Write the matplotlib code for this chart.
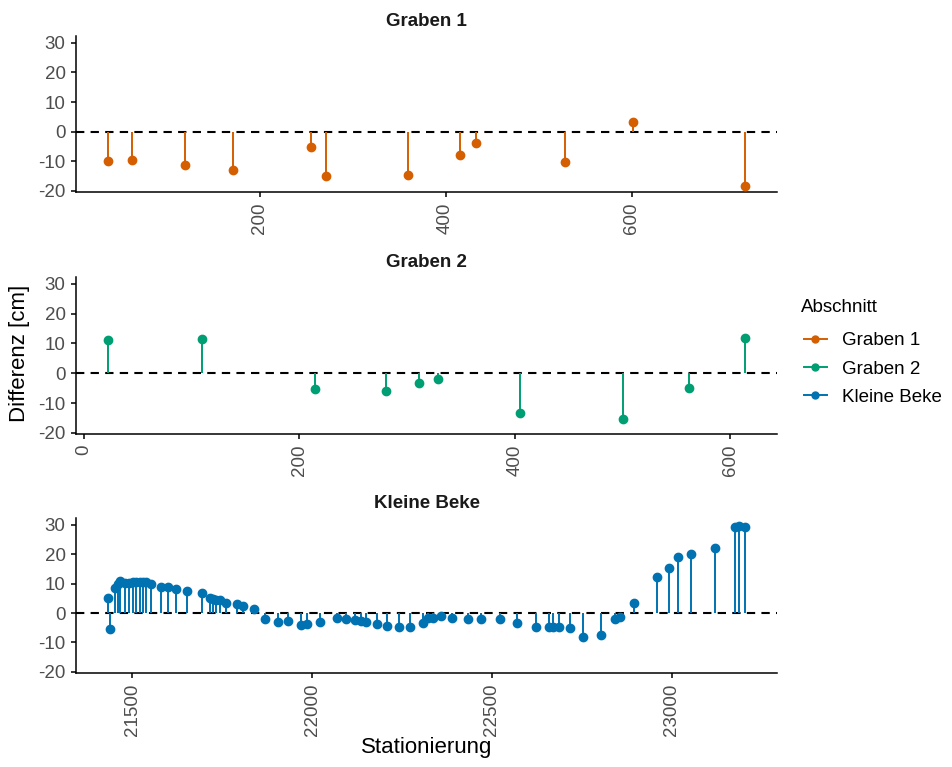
import matplotlib
matplotlib.use("Agg")
import matplotlib.pyplot as plt
from matplotlib.lines import Line2D

plt.rcParams["font.family"] = ["Liberation Sans", "DejaVu Sans"]
plt.rcParams["axes.unicode_minus"] = False

# Graben 1
g1_station = [37, 63, 120, 171, 255, 272, 360, 415, 433, 528, 602, 722]
g1_diff = [-9.8, -9.6, -11.3, -12.9, -5.1, -15.1, -14.6, -8.0, -4.0, -10.3, 3.4, -18.4]

# Graben 2
g2_station = [22, 109, 214, 280, 311, 329, 405, 501, 562, 614]
g2_diff = [11.0, 11.5, -5.3, -5.9, -3.2, -1.9, -13.5, -15.2, -5.0, 11.9]

# Kleine Beke
kb_station = [21432, 21439, 21453, 21460, 21467, 21479, 21490, 21502, 21511, 21520,
              21530, 21539, 21553, 21581, 21598, 21621, 21653, 21695, 21716, 21725,
              21734, 21745, 21760, 21790, 21809, 21837, 21869, 21906, 21934, 21969,
              21985, 22022, 22069, 22095, 22118, 22137, 22151, 22181, 22209, 22241,
              22271, 22307, 22323, 22336, 22357, 22390, 22434, 22470, 22522, 22571,
              22622, 22658, 22669, 22686, 22717, 22752, 22802, 22843, 22855, 22896,
              22958, 22993, 23016, 23053, 23120, 23176, 23188, 23204]
kb_diff = [5.0, -5.6, 8.4, 9.8, 11.0, 10.2, 10.3, 10.4, 10.4, 10.5,
           10.6, 10.6, 9.8, 8.9, 8.9, 8.3, 7.4, 6.9, 5.2, 4.6,
           4.4, 4.3, 3.4, 3.0, 2.5, 1.3, -2.0, -3.1, -2.6, -4.2,
           -3.6, -3.0, -1.8, -2.0, -2.4, -2.6, -3.0, -3.9, -4.3, -4.9,
           -4.9, -3.5, -1.7, -1.7, -0.9, -1.8, -2.0, -2.0, -2.2, -3.4,
           -4.6, -4.8, -4.8, -4.8, -5.2, -8.0, -7.5, -2.2, -1.2, 3.3,
           12.4, 15.4, 18.9, 20.0, 22.0, 29.2, 29.6, 29.2]

names = ["Graben 1", "Graben 2", "Kleine Beke"]
colors = ["#D55E00", "#009E73", "#0072B2"]
stations = [g1_station, g2_station, kb_station]
diffs = [g1_diff, g2_diff, kb_diff]
xticks = [[200, 400, 600], [0, 200, 400, 600], [21500, 22000, 22500, 23000]]
yticks = [-20, -10, 0, 10, 20, 30]

fig = plt.figure(figsize=(9.52, 7.67), dpi=100)

W, H = 952, 767
left, right = 76, 777
panels = [(36, 192), (277, 434), (518, 673)]

for i in range(3):
    top, bottom = panels[i]
    ax = fig.add_axes([left / W, 1 - bottom / H, (right - left) / W, (bottom - top) / H])
    ax.axhline(0, color="black", lw=1.5, ls=(0, (4, 3)), zorder=1)
    ax.vlines(stations[i], 0, diffs[i], color=colors[i], lw=1.4, zorder=2)
    ax.plot(stations[i], diffs[i], "o", color=colors[i], ms=6, zorder=3)
    ax.set_ylim(-20.4, 32.3)
    ax.set_yticks(yticks)
    ax.set_xticks(xticks[i])
    ax.tick_params(axis="x", labelrotation=90)
    ax.tick_params(labelsize=13.5, colors="#4D4D4D", length=3.5, width=1.1, pad=4)
    ax.tick_params(color="black")
    for s in ["top", "right"]:
        ax.spines[s].set_visible(False)
    for s in ["left", "bottom"]:
        ax.spines[s].set_linewidth(1.1)
    ax.set_title(names[i], fontsize=13.5, fontweight="bold", color="#1A1A1A", pad=7)

fig.text(20 / W, 1 - 353 / H, "Differenz [cm]", rotation=90, fontsize=16,
         ha="center", va="center")
fig.text((left + right) / 2 / W, 1 - 748 / H, "Stationierung", fontsize=16,
         ha="center", va="center")

# legend
fig.text(801 / W, 1 - 308 / H, "Abschnitt", fontsize=13.5, ha="left", va="center")
handles = [Line2D([0], [0], color=c, lw=1.4, marker="o", ms=5) for c in colors]
fig.legend(handles, names, loc="upper left",
           bbox_to_anchor=(804 / W, 1 - 332 / H), frameon=False,
           fontsize=13.5, borderpad=0, borderaxespad=0,
           handlelength=1.22, handletextpad=0.78, labelspacing=0.6)

fig.savefig("out.png", dpi=100)
